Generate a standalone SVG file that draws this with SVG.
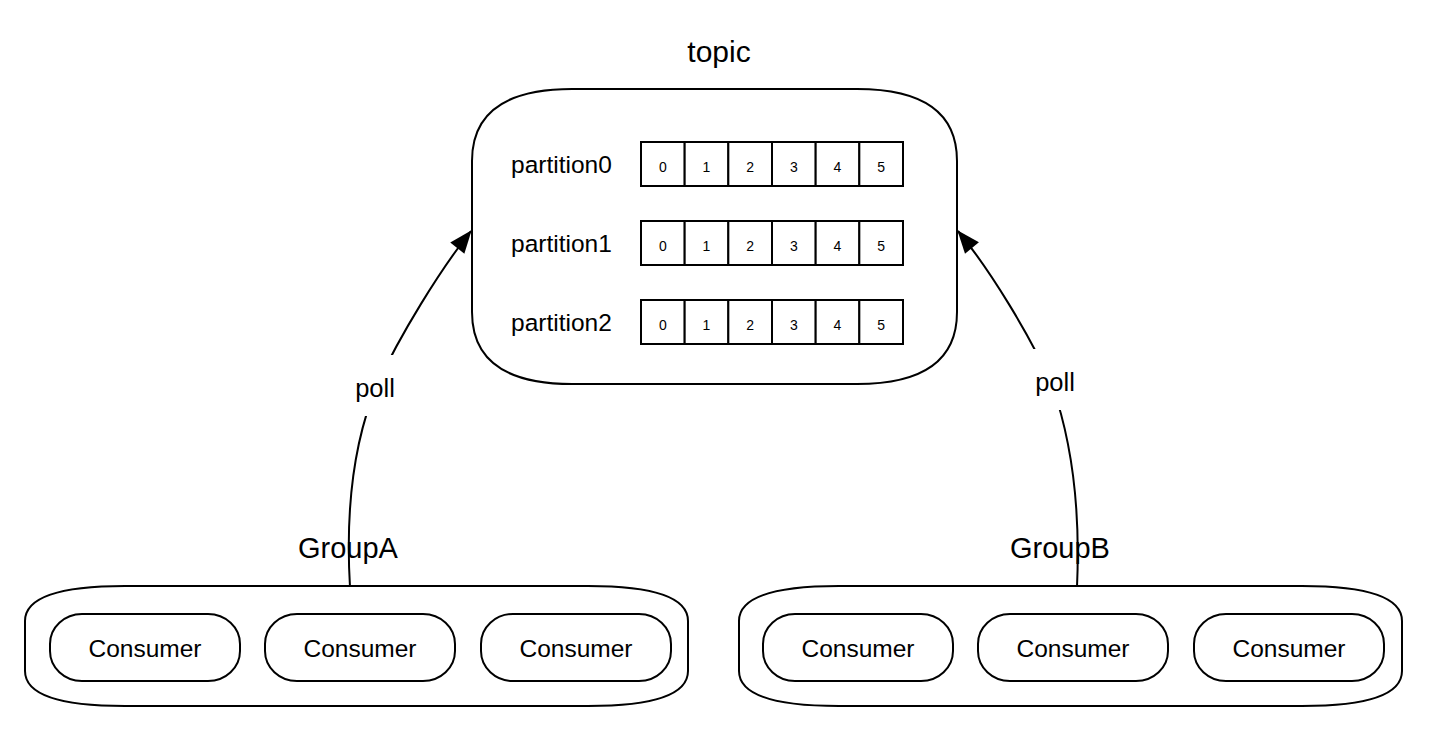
<svg xmlns="http://www.w3.org/2000/svg" width="1432" height="740" viewBox="0 0 1432 740">
<style>
  .box { fill: #ffffff; stroke: #000000; stroke-width: 2; }
  .cell { fill: #ffffff; stroke: #000000; stroke-width: 2; }
  .t { font-family: "Liberation Sans", Arial, Helvetica, sans-serif; fill: #000000; }
  .big { font-size: 29px; text-anchor: middle; }
  .top { font-size: 30px; text-anchor: middle; }
  .lbl { font-size: 24.5px; }
  .cons { font-size: 24.5px; text-anchor: middle; }
  .dig { font-size: 14px; text-anchor: middle; }
  .poll { font-size: 25.5px; text-anchor: middle; }
  .edge { fill: none; stroke: #000000; stroke-width: 2; }
</style>
<defs>
  <marker id="arrow" markerUnits="userSpaceOnUse" markerWidth="26" markerHeight="20" refX="22" refY="9" orient="auto" overflow="visible">
    <path d="M0,0 L23,9 L0,18 Z" fill="#000000"/>
  </marker>
</defs>
<rect width="1432" height="740" fill="#ffffff"/>

<g id="topic">
  <path class="box" d="M572,89 L857,89 Q957,89 957,161 L957,312 Q957,384 857,384 L572,384 Q472,384 472,312 L472,161 Q472,89 572,89 Z"/>
  <text class="t top" x="719" y="62">topic</text>
</g>

<g id="partition0">
  <text class="t lbl" x="511" y="173">partition0</text>
  <rect class="cell" x="641" y="142" width="43.67" height="44"/>
  <rect class="cell" x="684.67" y="142" width="43.67" height="44"/>
  <rect class="cell" x="728.33" y="142" width="43.67" height="44"/>
  <rect class="cell" x="772" y="142" width="43.67" height="44"/>
  <rect class="cell" x="815.67" y="142" width="43.67" height="44"/>
  <rect class="cell" x="859.33" y="142" width="43.67" height="44"/>
  <text class="t dig" x="662.8" y="171.5">0</text>
  <text class="t dig" x="706.5" y="171.5">1</text>
  <text class="t dig" x="750.2" y="171.5">2</text>
  <text class="t dig" x="793.8" y="171.5">3</text>
  <text class="t dig" x="837.5" y="171.5">4</text>
  <text class="t dig" x="881.2" y="171.5">5</text>
</g>

<g id="partition1">
  <text class="t lbl" x="511" y="252">partition1</text>
  <rect class="cell" x="641" y="221" width="43.67" height="44"/>
  <rect class="cell" x="684.67" y="221" width="43.67" height="44"/>
  <rect class="cell" x="728.33" y="221" width="43.67" height="44"/>
  <rect class="cell" x="772" y="221" width="43.67" height="44"/>
  <rect class="cell" x="815.67" y="221" width="43.67" height="44"/>
  <rect class="cell" x="859.33" y="221" width="43.67" height="44"/>
  <text class="t dig" x="662.8" y="250.5">0</text>
  <text class="t dig" x="706.5" y="250.5">1</text>
  <text class="t dig" x="750.2" y="250.5">2</text>
  <text class="t dig" x="793.8" y="250.5">3</text>
  <text class="t dig" x="837.5" y="250.5">4</text>
  <text class="t dig" x="881.2" y="250.5">5</text>
</g>

<g id="partition2">
  <text class="t lbl" x="511" y="331">partition2</text>
  <rect class="cell" x="641" y="300" width="43.67" height="44"/>
  <rect class="cell" x="684.67" y="300" width="43.67" height="44"/>
  <rect class="cell" x="728.33" y="300" width="43.67" height="44"/>
  <rect class="cell" x="772" y="300" width="43.67" height="44"/>
  <rect class="cell" x="815.67" y="300" width="43.67" height="44"/>
  <rect class="cell" x="859.33" y="300" width="43.67" height="44"/>
  <text class="t dig" x="662.8" y="329.5">0</text>
  <text class="t dig" x="706.5" y="329.5">1</text>
  <text class="t dig" x="750.2" y="329.5">2</text>
  <text class="t dig" x="793.8" y="329.5">3</text>
  <text class="t dig" x="837.5" y="329.5">4</text>
  <text class="t dig" x="881.2" y="329.5">5</text>
</g>

<g id="groupA">
  <text class="t big" x="348" y="558">GroupA</text>
  <path class="box" d="M125,586 L588,586 Q688,586 688,621 L688,671 Q688,706 588,706 L125,706 Q25,706 25,671 L25,621 Q25,586 125,586 Z"/>
</g>
<g id="consumerA1">
  <rect class="box" x="50" y="614" width="190" height="67" rx="32" ry="30"/>
  <text class="t cons" x="145" y="657">Consumer</text>
</g>
<g id="consumerA2">
  <rect class="box" x="265" y="614" width="190" height="67" rx="32" ry="30"/>
  <text class="t cons" x="360" y="657">Consumer</text>
</g>
<g id="consumerA3">
  <rect class="box" x="481" y="614" width="190" height="67" rx="32" ry="30"/>
  <text class="t cons" x="576" y="657">Consumer</text>
</g>

<g id="groupB">
  <text class="t big" x="1060" y="558">GroupB</text>
  <path class="box" d="M839,586 L1302,586 Q1402,586 1402,621 L1402,671 Q1402,706 1302,706 L839,706 Q739,706 739,671 L739,621 Q739,586 839,586 Z"/>
</g>
<g id="consumerB1">
  <rect class="box" x="763" y="614" width="190" height="67" rx="32" ry="30"/>
  <text class="t cons" x="858" y="657">Consumer</text>
</g>
<g id="consumerB2">
  <rect class="box" x="978" y="614" width="190" height="67" rx="32" ry="30"/>
  <text class="t cons" x="1073" y="657">Consumer</text>
</g>
<g id="consumerB3">
  <rect class="box" x="1194" y="614" width="190" height="67" rx="32" ry="30"/>
  <text class="t cons" x="1289" y="657">Consumer</text>
</g>

<g id="connectors">
  <path class="edge" d="M350,587 C346,520 350,450 377,385 C400,335 440,270 471,231" marker-end="url(#arrow)"/>
  <rect x="348" y="355" width="56" height="61" fill="#ffffff"/>
  <text class="t poll" x="375" y="397">poll</text>
  <path class="edge" d="M1077,587 C1080,520 1075,450 1052,385 C1030,335 990,270 958,231" marker-end="url(#arrow)"/>
  <rect x="1027" y="349" width="56" height="61" fill="#ffffff"/>
  <text class="t poll" x="1055" y="391">poll</text>
</g>
</svg>
